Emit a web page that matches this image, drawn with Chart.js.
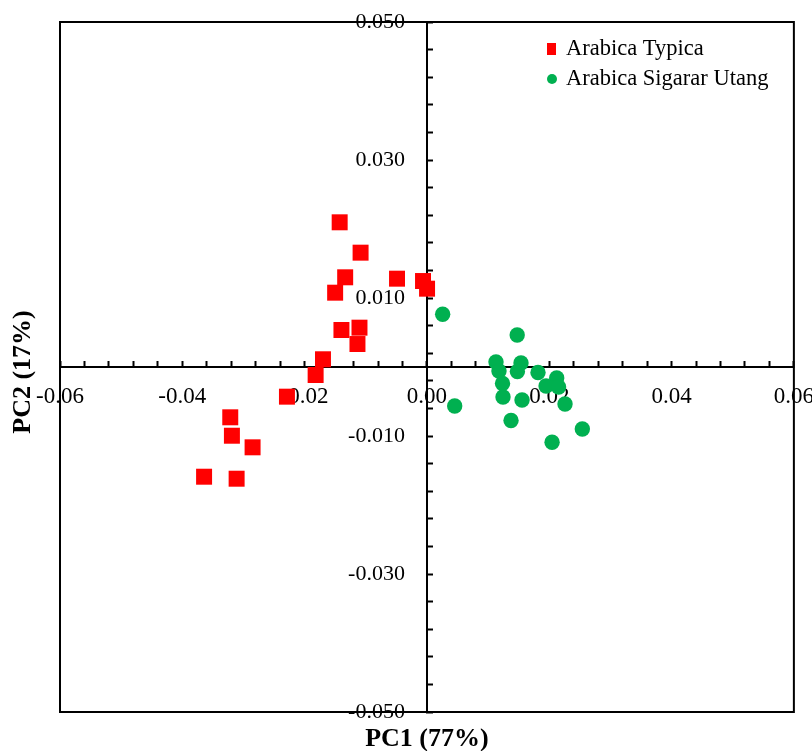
<!DOCTYPE html>
<html>
<head>
<meta charset="utf-8">
<script src="https://cdn.jsdelivr.net/npm/chart.js@4.4.1/dist/chart.umd.min.js"></script>
<style>
  html, body { margin: 0; padding: 0; background: #fff; }
</style>
</head>
<body>
<canvas id="pca-chart" width="812" height="751"></canvas>
<script>
// Scores PCA (lecturas del gráfico)
const typicaX = [-0.01427, -0.01085, -0.01337, -0.01501, -0.00489, -0.00064, 0.00002, -0.01398, -0.01103,
                 -0.01136, -0.01700, -0.01820, -0.02289, -0.03216, -0.03189, -0.02851, -0.03644, -0.03112];
const typicaY = [0.02097, 0.01657, 0.01300, 0.01077, 0.01280, 0.01246, 0.01135, 0.00536, 0.00570,
                 0.00333, 0.00112, -0.00116, -0.00430, -0.00729, -0.00996, -0.01164, -0.01590, -0.01619];

const sigararX = [0.00257, 0.01476, 0.01129, 0.01538, 0.01178, 0.01479, 0.01816, 0.02122, 0.01236,
                  0.01948, 0.02152, 0.01244, 0.01555, 0.02258, 0.00454, 0.01375, 0.02541, 0.02046];
const sigararY = [0.00764, 0.00464, 0.00072, 0.00058, -0.00058, -0.00065, -0.00080, -0.00159, -0.00239,
                  -0.00275, -0.00290, -0.00435, -0.00478, -0.00536, -0.00565, -0.00775, -0.00899, -0.01091];

// Ejes
const xMajor = [-0.06, -0.04, -0.02, 0, 0.02, 0.04, 0.06];
const xLabels = ['-0.06', '-0.04', '-0.02', '0.00', '0.02', '0.04', '0.06'];
const yMajor = [-0.05, -0.03, -0.01, 0.01, 0.03, 0.05];
const yLabels = ['-0.050', '-0.030', '-0.010', '0.010', '0.030', '0.050'];

const xTitle = 'PC1 (77%)';
const yTitle = 'PC2 (17%)';

function toPoints(xs, ys) {
  return xs.map(function(x, i) { return { x: x, y: ys[i] }; });
}

function majorLabel(value, majors, labels) {
  const i = majors.findIndex(function(v) { return Math.abs(v - value) < 1e-6; });
  return i >= 0 ? labels[i] : '';
}

Chart.defaults.font.family = "'Liberation Serif', 'Times New Roman', serif";
Chart.defaults.color = '#000';

// Marco, títulos de ejes y leyenda
const extras = {
  id: 'extras',
  beforeDraw: function(chart) {
    const ctx = chart.ctx;
    ctx.save();
    ctx.fillStyle = '#fff';
    ctx.fillRect(0, 0, chart.width, chart.height);
    ctx.restore();
  },
  afterDraw: function(chart) {
    const ctx = chart.ctx;
    const a = chart.chartArea;
    ctx.save();
    ctx.strokeStyle = '#000';
    ctx.lineWidth = 2;
    ctx.strokeRect(a.left, a.top, a.right - a.left, a.bottom - a.top);

    ctx.fillStyle = '#000';
    ctx.font = "bold 26px 'Liberation Serif'";
    ctx.textAlign = 'center';
    ctx.textBaseline = 'middle';
    ctx.fillText(xTitle, (a.left + a.right) / 2, 739);
    ctx.translate(23, 372);
    ctx.rotate(-Math.PI / 2);
    ctx.fillText(yTitle, 0, 0);
    ctx.restore();

    // leyenda
    ctx.save();
    ctx.font = "22.5px 'Liberation Serif'";
    ctx.textAlign = 'left';
    ctx.textBaseline = 'middle';
    chart.data.datasets.forEach(function(ds, i) {
      const y = 49 + i * 30;
      ctx.fillStyle = ds.backgroundColor;
      if (ds.pointStyle === 'rect') {
        ctx.fillRect(547, y - 6, 9, 12);
      } else {
        ctx.beginPath();
        ctx.arc(552, y, 5, 0, Math.PI * 2);
        ctx.fill();
      }
      ctx.fillStyle = '#000';
      ctx.fillText(ds.label, 566, y);
    });
    ctx.restore();
  }
};

new Chart(document.getElementById('pca-chart'), {
  type: 'scatter',
  data: {
    datasets: [{
      label: 'Arabica Typica',
      data: toPoints(typicaX, typicaY),
      pointStyle: 'rect',
      pointRadius: 11.3,
      backgroundColor: '#ff0000',
      borderColor: '#ff0000',
      borderWidth: 0
    }, {
      label: 'Arabica Sigarar Utang',
      data: toPoints(sigararX, sigararY),
      pointStyle: 'circle',
      pointRadius: 7.7,
      backgroundColor: '#00b050',
      borderColor: '#00b050',
      borderWidth: 0
    }]
  },
  options: {
    responsive: false,
    animation: false,
    events: [],
    layout: { padding: { left: 60, right: 18, top: 22, bottom: 39 } },
    plugins: {
      legend: { display: false },
      tooltip: { enabled: false }
    },
    scales: {
      x: {
        type: 'linear',
        min: -0.06,
        max: 0.06,
        position: { y: 0 },
        border: { color: '#000', width: 2 },
        grid: { drawOnChartArea: false, drawTicks: true, tickLength: -7, tickWidth: 2, tickColor: '#000' },
        ticks: {
          stepSize: 0.004,
          autoSkip: false,
          maxRotation: 0,
          // padding pequeño para no encoger el área; la altura de línea baja la etiqueta
          padding: -2,
          font: { size: 23, lineHeight: 3.4 },
          callback: function(value) { return majorLabel(value, xMajor, xLabels); }
        }
      },
      y: {
        type: 'linear',
        min: -0.05,
        max: 0.05,
        position: { x: 0 },
        border: { color: '#000', width: 2 },
        grid: { drawOnChartArea: false, drawTicks: true, tickLength: -7, tickWidth: 2, tickColor: '#000' },
        ticks: {
          stepSize: 0.004,
          autoSkip: false,
          padding: 0,
          font: { size: 22 },
          // espacios al final para separar la etiqueta del eje
          callback: function(value) {
            const s = majorLabel(value, yMajor, yLabels);
            return s ? s + '    ' : '';
          }
        }
      }
    }
  },
  plugins: [extras]
});
</script>
</body>
</html>
